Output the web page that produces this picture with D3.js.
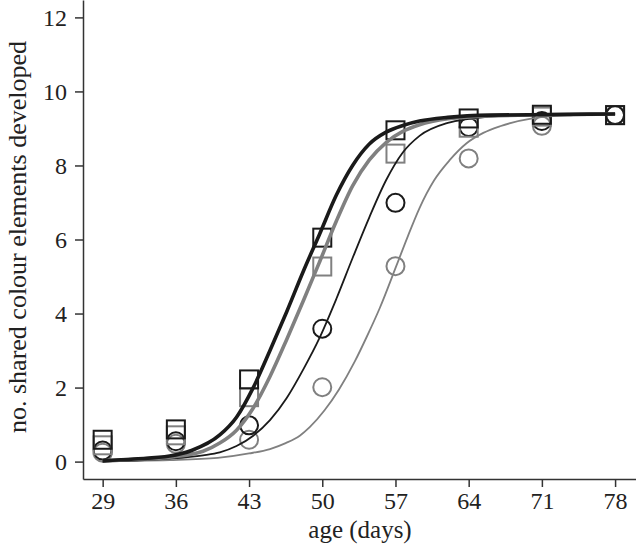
<!DOCTYPE html>
<html>
<head>
<meta charset="utf-8">
<script src="https://cdn.jsdelivr.net/npm/d3@7"></script>
<style>
  body { margin: 0; background: #fff; }
  svg text { font-family: "Liberation Serif", "Times New Roman", serif; }
</style>
</head>
<body>
<div id="chart"></div>
<script>
// sampling days of the observations
const days = [29, 36, 43, 50, 57, 64, 71, 78];

// observed means (markers)
const blackSquares = [0.59, 0.87, 2.22, 6.05, 8.95, 9.27, 9.37, 9.36];
const greySquares  = [0.44, 0.71, 1.74, 5.27, 8.32, 9.02, 9.32, 9.36];
const blackCircles = [0.30, 0.55, 0.98, 3.59, 6.99, 9.04, 9.20, 9.36];
const greyCircles  = [0.24, 0.48, 0.59, 2.01, 5.28, 8.19, 9.07, 9.36];

// fitted curves as [day, value]
const thickBlackCurve = [[29,0.02],[32,0.07],[35.4,0.15],[37.5,0.3],[40.2,0.72],[41.8,1.2],[43.4,2.0],
  [45,3.0],[46.6,4.05],[48.2,5.15],[49.75,6.15],[51.35,7.2],[52.9,8.0],[54.5,8.58],[56.1,8.9],
  [57.7,9.08],[59.3,9.2],[62,9.3],[66,9.36],[78,9.39]];
const thickGreyCurve = [[29,0.02],[32,0.06],[35.4,0.12],[38.6,0.28],[40.2,0.5],[41.8,0.85],[43.4,1.45],
  [45,2.3],[46.6,3.3],[48.2,4.35],[49.75,5.4],[51.35,6.5],[52.9,7.45],[54.5,8.15],[56.1,8.62],
  [57.7,8.92],[59.3,9.1],[62,9.26],[66,9.34],[78,9.39]];
const thinBlackCurve = [[29,0.01],[32,0.03],[35.4,0.08],[38.6,0.17],[40.2,0.25],[41.8,0.42],[43.4,0.7],
  [45,1.12],[46.6,1.72],[48.2,2.5],[49.75,3.35],[51.35,4.4],[52.9,5.5],[54.5,6.6],[56.1,7.6],
  [57.7,8.35],[59.3,8.8],[62,9.15],[64,9.26],[68,9.35],[78,9.39]];
const thinGreyCurve = [[29,0.01],[32,0.02],[35.4,0.04],[40,0.1],[43,0.22],[45,0.34],[46.5,0.5],
  [47.85,0.7],[48.8,0.93],[50.2,1.38],[51.6,1.95],[53.1,2.7],[54.3,3.4],[55.5,4.15],[57.1,5.3],
  [58.2,6.1],[59.3,6.85],[60.7,7.6],[62.2,8.15],[63.8,8.6],[65.4,8.88],[67,9.06],[70.1,9.27],
  [74,9.36],[78,9.39]];

const yTicks = [0, 2, 4, 6, 8, 10, 12];

const black = "#1a1a1a";
const grey = "#808080";

const width = 636, height = 545;

const svg = d3.select("#chart")
    .append("svg")
        .attr("width", width)
        .attr("height", height);

const xScale = d3.scaleLinear()
    .domain([27.12, 80])
    .range([83, 636]);

const yScale = d3.scaleLinear()
    .domain([-0.47, 12.47])
    .range([479, 0]);

// axes
const xAxis = svg.append("g")
    .attr("transform", "translate(0,479)")
    .call(d3.axisBottom(xScale).tickValues(days).tickSize(8).tickSizeOuter(0).tickPadding(5));

const yAxis = svg.append("g")
    .attr("transform", "translate(83,0)")
    .call(d3.axisLeft(yScale).tickValues(yTicks).tickSize(8).tickSizeOuter(0).tickPadding(8));

[xAxis, yAxis].forEach(ax => {
    ax.select(".domain").attr("stroke", "#333").attr("stroke-width", 1.5);
    ax.selectAll(".tick line").attr("stroke", "#333").attr("stroke-width", 1.5);
    ax.selectAll(".tick text")
        .attr("fill", "#222")
        .attr("font-size", "24px")
        .attr("font-family", "Liberation Serif, serif");
});

// axis titles
svg.append("text")
    .attr("x", 360)
    .attr("y", 538)
    .attr("text-anchor", "middle")
    .attr("font-size", "25px")
    .attr("fill", "#222")
    .text("age (days)");

svg.append("text")
    .attr("transform", "rotate(-90)")
    .attr("x", -237)
    .attr("y", 26)
    .attr("text-anchor", "middle")
    .attr("font-size", "26px")
    .attr("fill", "#222")
    .text("no. shared colour elements developed");

// markers
const markerSize = 18;

function drawSquares(values, color){
    svg.append("g").selectAll("rect")
        .data(values)
        .enter()
        .append("rect")
            .attr("x", (d, i) => xScale(days[i]) - markerSize / 2)
            .attr("y", d => yScale(d) - markerSize / 2)
            .attr("width", markerSize)
            .attr("height", markerSize)
            .attr("fill", "none")
            .attr("stroke", color)
            .attr("stroke-width", 2);
}

function drawCircles(values, color){
    svg.append("g").selectAll("circle")
        .data(values)
        .enter()
        .append("circle")
            .attr("cx", (d, i) => xScale(days[i]))
            .attr("cy", d => yScale(d))
            .attr("r", markerSize / 2)
            .attr("fill", "none")
            .attr("stroke", color)
            .attr("stroke-width", 2);
}

drawCircles(greyCircles, grey);
drawCircles(blackCircles, black);
drawSquares(greySquares, grey);
drawSquares(blackSquares, black);

// fitted curves
const line = d3.line()
    .x(d => xScale(d[0]))
    .y(d => yScale(d[1]))
    .curve(d3.curveMonotoneX);

function drawCurve(points, color, w){
    svg.append("path")
        .datum(points)
        .attr("fill", "none")
        .attr("stroke", color)
        .attr("stroke-width", w)
        .attr("d", line);
}

drawCurve(thinGreyCurve, grey, 1.8);
drawCurve(thinBlackCurve, black, 1.8);
drawCurve(thickGreyCurve, grey, 3.6);
drawCurve(thickBlackCurve, black, 3.6);
</script>
</body>
</html>
